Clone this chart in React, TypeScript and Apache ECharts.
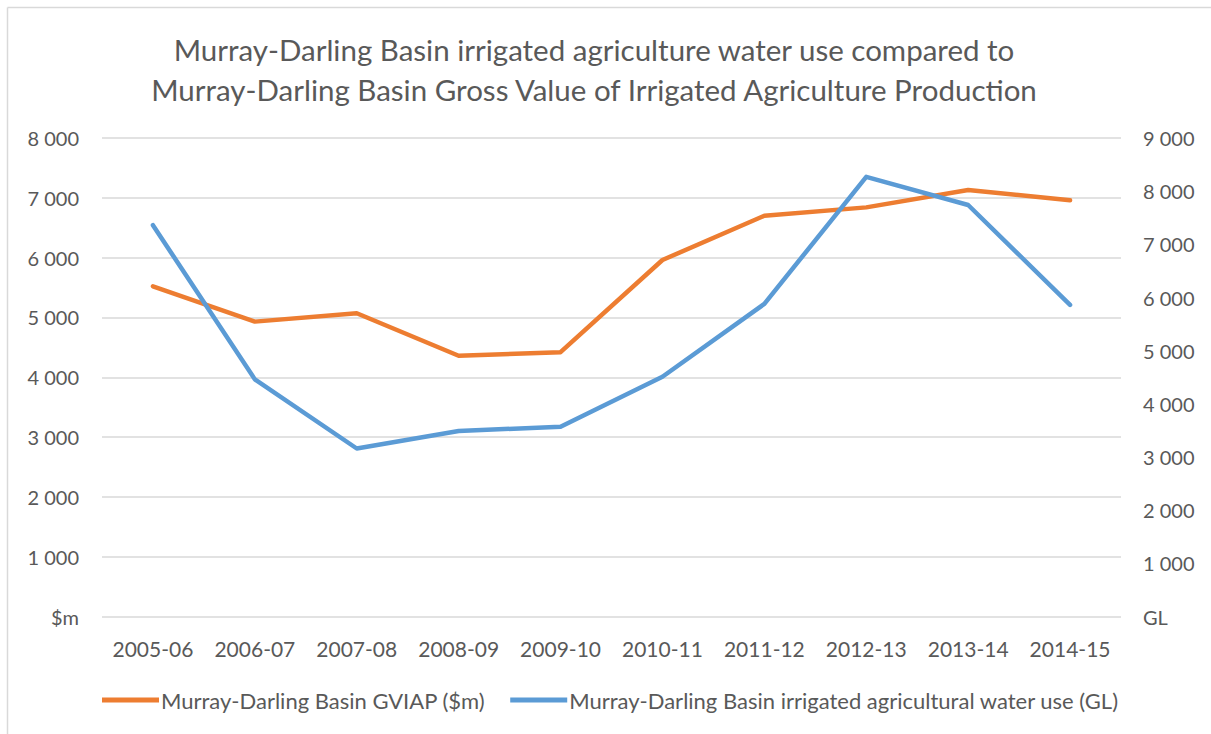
import React, { useEffect, useRef } from "react";
import * as echarts from "echarts";

const categories = ["2005-06", "2006-07", "2007-08", "2008-09", "2009-10", "2010-11", "2011-12", "2012-13", "2013-14", "2014-15"];
const gviap = [5520, 4930, 5070, 4360, 4420, 5960, 6700, 6840, 7130, 6960];
const waterUse = [7360, 4460, 3160, 3490, 3570, 4510, 5880, 8270, 7740, 5860];
const titleText = "Murray-Darling Basin irrigated agriculture water use compared to\nMurray-Darling Basin Gross Value of Irrigated Agriculture Production";
const seriesNames = ["Murray-Darling Basin GVIAP ($m)", "Murray-Darling Basin irrigated agricultural water use (GL)"];
const leftUnit = "$m";
const rightUnit = "GL";

const FONT = "Lato, 'Open Sans', sans-serif";
const TEXT = "#595959";
const GRID = "#D9D9D9";

const fmt = (unit: string) => (v: number) => {
  if (v === 0) return unit;
  const s = String(Math.round(v));
  return s.replace(/\B(?=(\d{3})+(?!\d))/g, " ");
};

export default function App() {
  const ref = useRef<HTMLDivElement>(null);
  useEffect(() => {
    if (!ref.current) return;
    const chart = echarts.init(ref.current, undefined, { renderer: "svg" });
    chart.setOption({
      animation: false,
      backgroundColor: "#ffffff",
      textStyle: { fontFamily: FONT },
      title: {
        text: titleText,
        left: 589,
        top: 24,
        textAlign: "center",
        textStyle: { fontFamily: FONT, fontSize: 29.5, fontWeight: "normal", color: TEXT, lineHeight: 40.5 },
      },
      graphic: [
        { type: "line", shape: { x1: 7.5, y1: 7.5, x2: 1211, y2: 7.5 }, style: { stroke: GRID, lineWidth: 1.5 } },
        { type: "line", shape: { x1: 7.5, y1: 7.5, x2: 7.5, y2: 734 }, style: { stroke: GRID, lineWidth: 1.5 } },
      ],
      grid: { left: 102, right: 90, top: 138, bottom: 117.5, containLabel: false },
      legend: {
        top: 684,
        left: 97,
        itemWidth: 57,
        itemHeight: 5,
        itemGap: 25,
        icon: "rect",
        textStyle: { fontFamily: FONT, fontSize: 22, color: TEXT, padding: [0, 0, 0, -3] },
        data: seriesNames,
      },
      xAxis: {
        type: "category",
        data: categories,
        boundaryGap: true,
        axisLine: { show: false },
        axisTick: { show: false },
        axisLabel: { color: TEXT, fontSize: 21, fontFamily: FONT, margin: 21, interval: 0 },
      },
      yAxis: [
        {
          type: "value",
          min: 0,
          max: 8000,
          interval: 1000,
          axisLine: { show: false },
          axisTick: { show: false },
          splitLine: { lineStyle: { color: GRID, width: 1.5 } },
          axisLabel: { color: TEXT, fontSize: 20, fontFamily: FONT, margin: 23, formatter: fmt(leftUnit) },
        },
        {
          type: "value",
          min: 0,
          max: 9000,
          interval: 1000,
          position: "right",
          axisLine: { show: false },
          axisTick: { show: false },
          splitLine: { show: false },
          axisLabel: { color: TEXT, fontSize: 20, fontFamily: FONT, margin: 22, formatter: fmt(rightUnit) },
        },
      ],
      series: [
        {
          name: seriesNames[0],
          type: "line",
          yAxisIndex: 0,
          data: gviap,
          symbol: "none",
          lineStyle: { color: "#ED7D31", width: 4.5, cap: "round", join: "round" },
          itemStyle: { color: "#ED7D31" },
        },
        {
          name: seriesNames[1],
          type: "line",
          yAxisIndex: 1,
          data: waterUse,
          symbol: "none",
          lineStyle: { color: "#5B9BD5", width: 4.5, cap: "round", join: "round" },
          itemStyle: { color: "#5B9BD5" },
        },
      ],
    });
    return () => chart.dispose();
  }, []);
  return <div ref={ref} style={{ position: "fixed", left: 0, top: 0, width: 1211, height: 734 }} />;
}
